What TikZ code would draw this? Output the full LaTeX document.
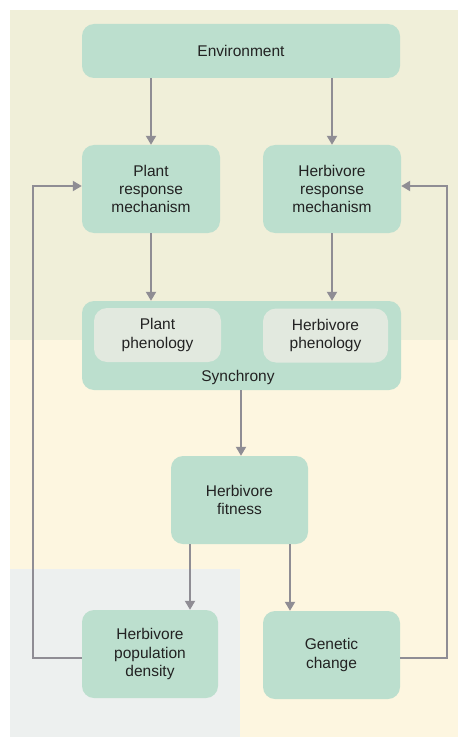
\documentclass[tikz,border=0pt]{standalone}
\usepackage{fontspec}
\setmainfont{Liberation Sans}
\usetikzlibrary{arrows.meta}
\definecolor{topbg}{HTML}{F0EFD9}
\definecolor{lowbg}{HTML}{FDF6E0}
\definecolor{cornerbg}{HTML}{EDF0EF}
\definecolor{boxfill}{HTML}{BCDFCE}
\definecolor{innerfill}{HTML}{E2E9DF}
\definecolor{linkgray}{HTML}{8F8D94}
\definecolor{ink}{HTML}{222222}
\tikzset{
  label text/.style={text=ink, font=\fontsize{15.5}{18.3}\selectfont},
  box/.style={rectangle, fill=boxfill, rounded corners=12pt, align=center,
    inner sep=0pt, label text},
  innerbox/.style={box, fill=innerfill, rounded corners=13pt},
  link/.style={draw=linkgray, line width=2pt,
    -{Triangle[length=9pt, width=10pt]}},
}
\begin{document}
\begin{tikzpicture}[x=1pt, y=-1pt]
\useasboundingbox (0,0) rectangle (458,738);
% background panels
\fill[white] (0,0) rectangle (458,738);
\fill[topbg] (10,10) rectangle (458,340);
\fill[lowbg] (10,340) rectangle (458,737);
\fill[cornerbg] (10,569) rectangle (240,737);

% nodes
\node[box, minimum width=318pt, minimum height=54pt] (env) at (241,51) {Environment};
\node[box, minimum width=138pt, minimum height=88pt] (prm) at (151,189) {Plant\\response\\mechanism};
\node[box, minimum width=138pt, minimum height=88pt] (hrm) at (332,189) {Herbivore\\response\\mechanism};
\node[box, minimum width=319pt, minimum height=89pt] (sync) at (241.5,345.5) {};
\node[innerbox, minimum width=127pt, minimum height=54pt] (pph) at (157.5,335) {Plant\\phenology};
\node[innerbox, minimum width=125pt, minimum height=54pt] (hph) at (325.5,335.5) {Herbivore\\phenology};
\node[label text, inner sep=0pt] (synclabel) at (238,377) {Synchrony};
\node[box, minimum width=137pt, minimum height=88pt] (fit) at (239.5,500) {Herbivore\\fitness};
\node[box, minimum width=136pt, minimum height=88pt] (dens) at (150,654) {Herbivore\\population\\density};
\node[box, minimum width=137pt, minimum height=88pt] (gen) at (331.5,655) {Genetic\\change};

% connectors
\coordinate (fd) at (190,0);
\coordinate (fg) at (290,0);
\coordinate (sf) at (241,0);
\coordinate (lx) at (33,186);
\coordinate (rx) at (447,186);
\coordinate (dl) at (82,658);
\coordinate (gr) at (400,658);

\draw[link] (prm.north |- env.south) -- (prm.north);
\draw[link] (hrm.north |- env.south) -- (hrm.north);
\draw[link] (prm.south) -- (prm.south |- sync.north);
\draw[link] (hrm.south) -- (hrm.south |- sync.north);
\draw[link] (sync.south -| sf) -- (fit.north -| sf);
\draw[link] (fit.south -| fd) -- (dens.north -| fd);
\draw[link] (fit.south -| fg) -- (gen.north -| fg);
\draw[link] (dens.west |- dl) -| (lx) -- (prm.west |- lx);
\draw[link] (gen.east |- gr) -| (rx) -- (hrm.east |- rx);
\end{tikzpicture}
\end{document}
